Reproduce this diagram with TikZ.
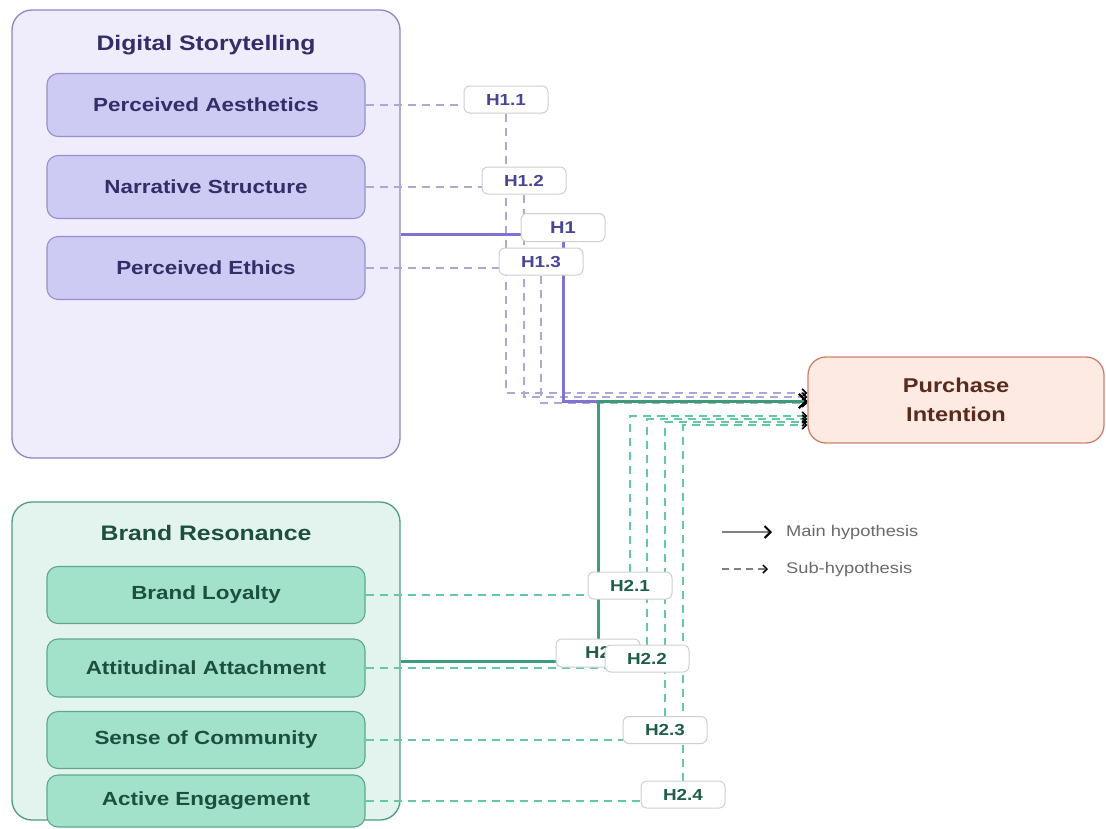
\documentclass[tikz,border=0pt]{standalone}
\usepackage{fontspec}
\setmainfont{Liberation Sans}[FakeStretch=1.18]
\usetikzlibrary{arrows.meta}
\pgfdeclarelayer{front}
\pgfsetlayers{main,front}
\definecolor{dsfill}{HTML}{EFEDFB}
\definecolor{dsedge}{HTML}{8C86C6}
\definecolor{dssub}{HTML}{CDCAF4}
\definecolor{dssubedge}{HTML}{9690D0}
\definecolor{dstext}{HTML}{332D68}
\definecolor{brfill}{HTML}{E3F4EE}
\definecolor{bredge}{HTML}{4E9C80}
\definecolor{brsub}{HTML}{A2E2CB}
\definecolor{brsubedge}{HTML}{5DA88C}
\definecolor{brtext}{HTML}{1D4F3F}
\definecolor{pifill}{HTML}{FCEAE3}
\definecolor{piedge}{HTML}{D0806A}
\definecolor{pitext}{HTML}{5A2A1C}
\definecolor{dsline}{HTML}{7C74D0}
\definecolor{brline}{HTML}{3A9C7A}
\definecolor{dsdash}{HTML}{ADA6D6}
\definecolor{brdash}{HTML}{62C9A0}
\definecolor{hypedge}{HTML}{CFCFCF}
\definecolor{h1text}{HTML}{4A4594}
\definecolor{h2text}{HTML}{1F5E4A}
\definecolor{legendtext}{HTML}{6A6A6A}

\begin{document}
\begin{tikzpicture}[x=1pt,y=-1pt,
    group/.style={draw,rounded corners=20pt,line width=1.3pt,inner sep=0pt,minimum width=388pt},
    title/.style={font=\fontsize{21}{25}\selectfont\bfseries},
    factor/.style={draw,rounded corners=11pt,line width=1.1pt,minimum width=318pt,font=\fontsize{19}{23}\selectfont\bfseries},
    hyp/.style={draw=hypedge,fill=white,rounded corners=6pt,line width=1pt,minimum width=84pt,minimum height=27pt,inner sep=0pt,font=\fontsize{16}{19}\selectfont\bfseries},
    mainline/.style={line width=3pt},
    subline/.style={line width=1.6pt,dash pattern=on 8pt off 6pt},
    mainarrow/.style={mainline,-{Straight Barb[color=black,length=7pt,width=14pt,line width=2pt]}},
    subarrow/.style={subline,-{Straight Barb[color=black,length=4pt,width=8pt]}},
    legend/.style={anchor=west,inner sep=0pt,text=legendtext,font=\fontsize{15.5}{18}\selectfont}]
    \useasboundingbox (0,0) rectangle (1106,828);
    \fill[white] (0,0) rectangle (1106,828);

    \node[group,fill=dsfill,draw=dsedge,minimum height=448pt] (ds) at (206,234) {};
    \node[title,text=dstext] (dstitle) at (206,45) {Digital Storytelling};
    \node[factor,fill=dssub,draw=dssubedge,text=dstext,minimum height=63pt] (pa) at (206,105) {Perceived Aesthetics};
    \node[factor,fill=dssub,draw=dssubedge,text=dstext,minimum height=63pt] (ns) at (206,187) {Narrative Structure};
    \node[factor,fill=dssub,draw=dssubedge,text=dstext,minimum height=63pt] (pe) at (206,268) {Perceived Ethics};

    \node[group,fill=brfill,draw=bredge,minimum height=318pt] (br) at (206,661) {};
    \node[title,text=brtext] (brtitle) at (206,533) {Brand Resonance};
    \node[factor,fill=brsub,draw=brsubedge,text=brtext,minimum height=57pt] (bl) at (206,595) {Brand Loyalty};
    \node[factor,fill=brsub,draw=brsubedge,text=brtext,minimum height=58pt] (aa) at (206,668) {Attitudinal Attachment};
    \node[factor,fill=brsub,draw=brsubedge,text=brtext,minimum height=57pt] (sc) at (206,740) {Sense of Community};
    \node[factor,fill=brsub,draw=brsubedge,text=brtext,minimum height=52pt] (ae) at (206,801) {Active Engagement};

    \node[draw=piedge,fill=pifill,rounded corners=18pt,line width=1.3pt,minimum width=296pt,minimum height=86pt,align=center,text=pitext,font=\fontsize{20}{29}\selectfont\bfseries] (pi) at (956,400) {Purchase\\Intention};

    \begin{pgfonlayer}{front}
    \node[hyp,text=h1text] (h11) at (506,99.5) {H1.1};
    \node[hyp,text=h1text] (h12) at (524,180.5) {H1.2};
    \node[hyp,text=h1text,minimum height=28pt,font=\fontsize{17}{20}\selectfont\bfseries] (h1) at (563,227.5) {H1};
    \node[hyp,text=h1text] (h13) at (541,261.5) {H1.3};
    \node[hyp,text=h2text,minimum height=28pt,font=\fontsize{17}{20}\selectfont\bfseries] (h2) at (598,653) {H2};
    \node[hyp,text=h2text] (h21) at (630,585.5) {H2.1};
    \node[hyp,text=h2text] (h22) at (647,658.5) {H2.2};
    \node[hyp,text=h2text] (h23) at (665,730) {H2.3};
    \node[hyp,text=h2text] (h24) at (683,794.5) {H2.4};
    \end{pgfonlayer}

    \draw[subline,dsdash] (pa.east) -- (pa.east -| h11.west);
    \draw[subline,dsdash] (ns.east) -- (ns.east -| h12.west);
    \draw[subline,dsdash] (pe.east) -- (pe.east -| h13.west);
    \draw[subarrow,dsdash] (h11.south) |- ([yshift=7pt]pi.west);
    \draw[subarrow,dsdash] (h12.south) |- ([yshift=3pt]pi.west);
    \draw[subarrow,dsdash] (h13.south) |- ([yshift=-3pt]pi.west);

    \draw[subline,brdash] (bl.east) -- (bl.east -| h21.west);
    \draw[subline,brdash] (aa.east) -- (aa.east -| h22.west);
    \draw[subline,brdash] (sc.east) -- (sc.east -| h23.west);
    \draw[subline,brdash] (ae.east) -- (ae.east -| h24.west);
    \draw[subarrow,brdash] (h21.north) |- ([yshift=-16pt]pi.west);
    \draw[subarrow,brdash] (h22.north) |- ([yshift=-19pt]pi.west);
    \draw[subarrow,brdash] (h23.north) |- ([yshift=-22pt]pi.west);
    \draw[subarrow,brdash] (h24.north) |- ([yshift=-25pt]pi.west);

    \coordinate (h1in) at ([yshift=-7pt]h1.west);
    \coordinate (h2in) at ([yshift=-8pt]h2.west);
    \draw[mainline,dsline] (ds.east |- h1in) -- (h1in);
    \draw[mainarrow,dsline] (h1.south) |- ([yshift=-1pt]pi.west);
    \draw[mainline,brline] (br.east |- h2in) -- (h2in);
    \draw[mainarrow,brline] (h2.north) |- ([yshift=-1pt]pi.west);

    \coordinate (lg1) at (722,532);
    \coordinate (lg2) at (722,569);
    \node[legend] (lgmain) at (786,532) {Main hypothesis};
    \node[legend] (lgsub) at (786,569) {Sub-hypothesis};
    \draw[line width=2pt,gray,-{Straight Barb[color=black,length=6pt,width=12pt]}] (lg1) -- ([xshift=-14pt]lgmain.west);
    \draw[line width=1.5pt,gray,dash pattern=on 7pt off 5pt,-{Straight Barb[color=black,length=4pt,width=8pt]}] (lg2) -- ([xshift=-18pt]lgsub.west);
\end{tikzpicture}
\end{document}
